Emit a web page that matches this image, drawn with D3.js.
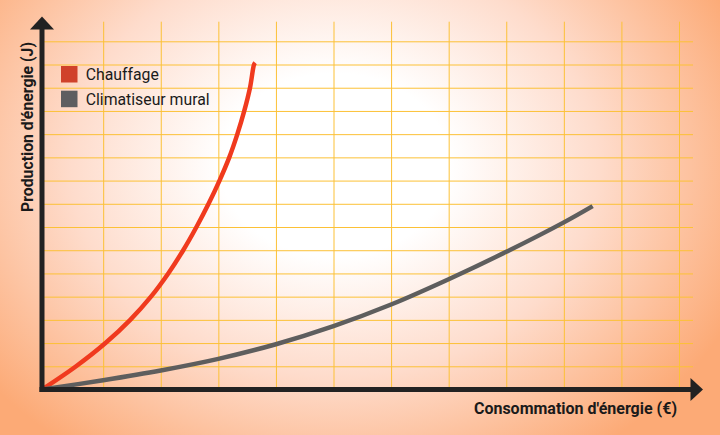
<!DOCTYPE html>
<html>
<head>
<meta charset="utf-8">
<script src="https://cdn.jsdelivr.net/npm/d3@7"></script>
<style>
  html, body { margin: 0; padding: 0; overflow: hidden; }
  svg { display: block; font-family: Roboto, "Noto Sans", sans-serif; }
</style>
</head>
<body>
<div id="chart"></div>
<script>
// grid positions (no tick labels in the picture)
const gridX = [1, 2, 3, 4, 5, 6, 7, 8, 9, 10, 11];
const gridY = [1, 2, 3, 4, 5, 6, 7, 8, 9, 10, 11, 12, 13, 14, 15];

// Chauffage curve (in grid units)
const heatX = [-0.06, 0.53, 1.04, 1.47, 1.83, 2.13, 2.39, 2.62, 2.83, 3.02, 3.19, 3.33, 3.45, 3.55, 3.62, 3.64];
const heatY = [0, 1, 2, 3, 4, 5, 6, 7, 8, 9, 10, 11, 12, 13, 14, 14.08];

// Climatiseur mural curve
const acX = [-0.06, 1, 2, 3, 4, 5, 6, 7, 8, 9, 9.5];
const acY = [0, 0.4, 0.82, 1.32, 1.95, 2.73, 3.66, 4.75, 5.93, 7.2, 7.9];

const seriesNames = ["Chauffage", "Climatiseur mural"];
const legendColors = ["#d0412b", "#5e5e60"];
const lineColors = ["#f03a1e", "#5e5e5e"];

const width = 720,
  height = 435;

let svg = d3
  .select("#chart")
  .append("svg")
  .attr("width", width)
  .attr("height", height);

// background glow
let defs = svg.append("defs");
let grad = defs
  .append("radialGradient")
  .attr("id", "bg")
  .attr("gradientUnits", "userSpaceOnUse")
  .attr("cx", 335)
  .attr("cy", 165)
  .attr("r", 440)
  .attr("gradientTransform", "translate(335,165) scale(1,0.8) translate(-335,-165)");
grad.append("stop").attr("offset", "0%").attr("stop-color", "#ffffff");
grad.append("stop").attr("offset", "26%").attr("stop-color", "#ffffff");
grad.append("stop").attr("offset", "60%").attr("stop-color", "#fedccc");
grad.append("stop").attr("offset", "100%").attr("stop-color", "#fcaa76");

svg.append("rect").attr("width", width).attr("height", height).attr("fill", "url(#bg)");

let x = d3.scaleLinear().domain([0, 11]).range([45.6, 679]);
let y = d3.scaleLinear().domain([0, 15]).range([389.5, 41.3]);

let axisX = 42,
  axisY = 389.5;

// vertical grid
svg
  .append("g")
  .attr("transform", `translate(0,${axisY})`)
  .call(d3.axisBottom(x).tickValues(gridX).tickSize(-(axisY - 21.7)).tickFormat(""))
  .call((g) => g.select(".domain").remove())
  .call((g) => g.selectAll("line").attr("stroke", "#fcc136").attr("stroke-width", 1));

// horizontal grid
svg
  .append("g")
  .attr("transform", `translate(${axisX},0)`)
  .call(d3.axisLeft(y).tickValues(gridY).tickSize(-(693 - axisX)).tickFormat(""))
  .call((g) => g.select(".domain").remove())
  .call((g) => g.selectAll("line").attr("stroke", "#fcc136").attr("stroke-width", 1));

// curves
let line = d3
  .line()
  .x((d) => x(d[0]))
  .y((d) => y(d[1]))
  .curve(d3.curveCatmullRom.alpha(0.5));

let series = [d3.zip(heatX, heatY), d3.zip(acX, acY)];

svg
  .selectAll(".curve")
  .data(series)
  .join("path")
  .attr("class", "curve")
  .attr("d", line)
  .attr("fill", "none")
  .attr("stroke", (d, i) => lineColors[i])
  .attr("stroke-width", 4.5);

// axes with arrows
let axisColor = "#222222";
svg
  .append("line")
  .attr("x1", axisX)
  .attr("y1", axisY + 2.5)
  .attr("x2", axisX)
  .attr("y2", 28)
  .attr("stroke", axisColor)
  .attr("stroke-width", 5);
svg
  .append("path")
  .attr("d", `M${axisX},16.5 L${axisX + 12},29.5 L${axisX - 12},29.5 Z`)
  .attr("fill", axisColor);

svg
  .append("line")
  .attr("x1", axisX - 2.5)
  .attr("y1", axisY)
  .attr("x2", 692)
  .attr("y2", axisY)
  .attr("stroke", axisColor)
  .attr("stroke-width", 5);
svg
  .append("path")
  .attr("d", `M703,${axisY} L690.5,${axisY - 11.5} L690.5,${axisY + 11.5} Z`)
  .attr("fill", axisColor);

// axis titles
svg
  .append("text")
  .attr("x", 677)
  .attr("y", 413.5)
  .attr("text-anchor", "end")
  .style("font-size", "16px")
  .style("font-weight", "bold")
  .attr("fill", "#1a1a1a")
  .text("Consommation d'énergie (€)");

svg
  .append("text")
  .attr("transform", "translate(32.5,127) rotate(-90)")
  .attr("text-anchor", "middle")
  .style("font-size", "15.8px")
  .style("font-weight", "bold")
  .attr("fill", "#1a1a1a")
  .text("Production d'énergie (J)");

// legend
let legend = svg
  .selectAll(".legend")
  .data(seriesNames)
  .join("g")
  .attr("class", "legend")
  .attr("transform", (d, i) => `translate(61,${66 + i * 24.7})`);

legend
  .append("rect")
  .attr("width", 16.5)
  .attr("height", 16.5)
  .attr("fill", (d, i) => legendColors[i]);

legend
  .append("text")
  .attr("x", 24.7)
  .attr("y", 14)
  .style("font-size", "15.8px")
  .attr("fill", "#1a1a1a")
  .text((d) => d);
</script>
</body>
</html>
